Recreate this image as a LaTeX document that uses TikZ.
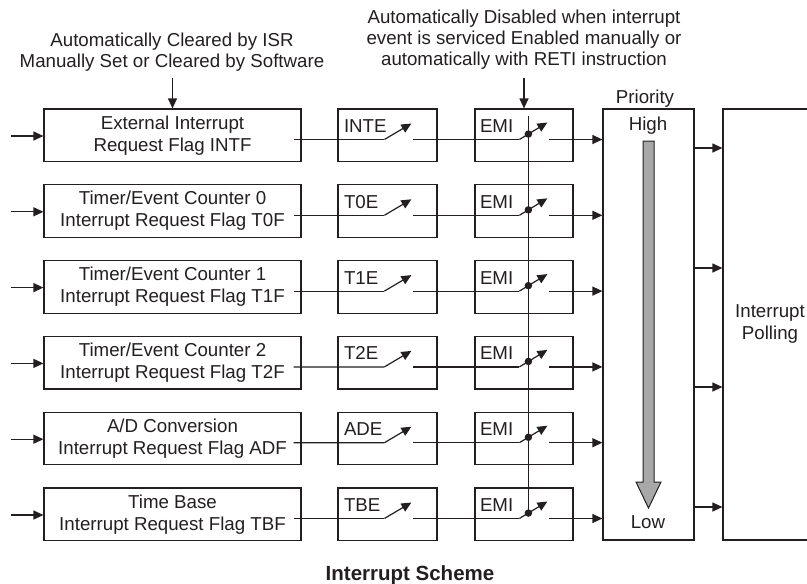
\documentclass[tikz,border=0pt]{standalone}
\usepackage{fontspec}
\setmainfont{Liberation Sans}
\usetikzlibrary{arrows.meta,calc}
\definecolor{ink}{HTML}{231F20}
\definecolor{bargray}{HTML}{A8A8A8}
\begin{document}
\begin{tikzpicture}[x=1pt,y=-1pt,
  line width=1.2pt, draw=ink, color=ink,
  tip/.style={-{Triangle[length=10pt,width=9pt]}},
  txt/.style={font=\fontsize{18.7}{22}\selectfont, inner sep=0pt, text=ink},
  note/.style={txt, font=\fontsize{18.7}{21}\selectfont, align=center, anchor=north},
  box/.style={draw=ink, rectangle, inner sep=0pt, align=center, txt},
  flagbox/.style={box, minimum width=257pt, minimum height=52.5pt},
  enbox/.style={box, minimum width=99pt, minimum height=52.5pt},
  emibox/.style={box, minimum width=98pt, minimum height=52.5pt},
  lbl/.style={txt, anchor=base west},
  jdot/.style={circle, fill=ink, draw=none, inner sep=0pt, minimum size=7.5pt}]
\useasboundingbox (0,0) rectangle (807,584);

% annotations
\node[note] (n1) at (172,32.5)
  {Automatically Cleared by ISR\\Manually Set or Cleared by Software};
\node[note] (n2) at (524,9.8)
  {Automatically Disabled when interrupt\\event is serviced Enabled manually or\\automatically with RETI instruction};

% flag boxes
\node[flagbox] (f1) at (172.5,135.25) {External Interrupt\\Request Flag INTF};
\node[flagbox] (f2) at (172.5,211.05) {Timer/Event Counter 0\\Interrupt Request Flag T0F};
\node[flagbox] (f3) at (172.5,286.85) {Timer/Event Counter 1\\Interrupt Request Flag T1F};
\node[flagbox] (f4) at (172.5,362.65) {Timer/Event Counter 2\\Interrupt Request Flag T2F};
\node[flagbox] (f5) at (172.5,438.45) {A/D Conversion\\Interrupt Request Flag ADF};
\node[flagbox] (f6) at (172.5,514.25) {Time Base\\Interrupt Request Flag TBF};

% priority and polling
\node[box, minimum width=91pt, minimum height=431pt] (pr) at (648.5,324.5) {};
\node[box, minimum width=94pt, minimum height=431pt] (po) at (770,324.5) {Interrupt\\Polling};
\node[txt, anchor=base] (prl) at (645,103) {Priority};
\node[txt, anchor=base] (hi) at (648,130) {High};
\node[txt, anchor=base] (lo) at (648,528) {Low};
\filldraw[fill=bargray, draw=ink, line width=1pt]
  (643,141) -- (654,141) -- (654,482) -- (661,482) -- (648.5,508) -- (636,482) -- (643,482) -- cycle;

% rows
\foreach \i/\en in {1/INTE,2/T0E,3/T1E,4/T2E,5/ADE,6/TBE}{
  \pgfmathsetmacro\cy{135.25+75.8*(\i-1)}
  \node[enbox] (e\i) at (387.5,\cy) {};
  \node[emibox] (m\i) at (524,\cy) {};
  \node[lbl] (el\i) at ($(e\i.north west)+(6,24)$) {\en};
  \node[lbl] (ml\i) at ($(m\i.north west)+(5,24)$) {EMI};
  % input arrow
  \coordinate (in\i) at ($(f\i.west)+(-32,0.75)$);
  \draw[tip] (in\i) -- (in\i -| f\i.west);
  % signal path
  \coordinate (a\i) at ($(f\i.east)+(-8,4.25)$);
  \coordinate (s\i) at ($(e\i.west)+(47,4.25)$);
  \coordinate (sb\i) at ($(e\i.west)+(74,-11.75)$);
  \coordinate (r\i) at ($(e\i.west)+(76,4.25)$);
  \coordinate (t\i) at ($(m\i.west)+(45,4.25)$);
  \coordinate (tb\i) at ($(m\i.west)+(73,-12.75)$);
  \coordinate (o\i) at ($(m\i.west)+(75,4.25)$);
  \draw (a\i) -- (s\i);
  \draw[tip] (s\i) -- (sb\i);
  \draw (r\i) -- (t\i);
  \draw[tip] (t\i) -- (tb\i);
  \draw[tip] (o\i) -- (o\i -| pr.west);
  \node[jdot] (d\i) at ($(m\i.west)+(54,-1.2)$) {};
}

% EMI common line
\coordinate (vt) at ($(m1.north west)+(54,8)$);
\draw (vt) -- (d6.center);

% top arrows
\coordinate (ta) at (172.5,78);
\coordinate (tb) at (524,78);
\draw[tip] (ta) -- (f1.north);
\draw[tip] (tb) -- (m1.north);

% priority to polling
\foreach \yy [count=\j] in {148,268,387,507}{
  \coordinate (pp\j) at (pr.east |- 0,\yy);
  \draw[tip] (pp\j) -- (pp\j -| po.west);
}

% title
\node[txt, font=\fontsize{20.5}{24}\selectfont\bfseries, anchor=base] (title) at (410,580.5) {Interrupt Scheme};
\end{tikzpicture}
\end{document}
